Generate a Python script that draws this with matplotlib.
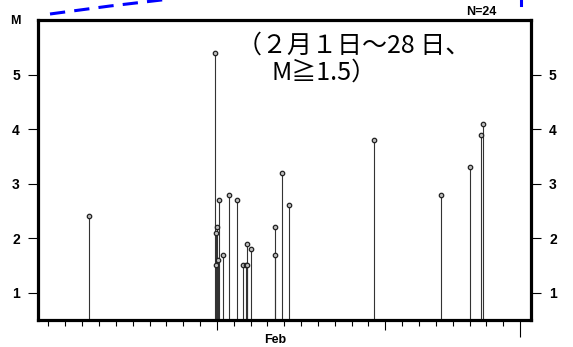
import numpy as np
import matplotlib
matplotlib.use('Agg')
import matplotlib.pyplot as plt
from matplotlib.lines import Line2D

plt.rcParams['font.family'] = ['Liberation Sans', 'Noto Sans CJK JP', 'DejaVu Sans']

# event time in days since Feb 1 00:00, and magnitude
days = [2.43, 9.89, 9.93, 9.95, 10.01, 10.05, 10.13, 10.39, 10.74, 11.18,
        11.57, 11.72, 11.79, 11.81, 12.05, 13.44, 13.44, 13.89, 14.30,
        19.35, 23.29, 25.04, 25.70, 25.80]
mags = [2.4, 5.4, 2.1, 1.5, 2.2, 1.6, 2.7, 1.7, 2.8, 2.7,
        1.5, 1.5, 1.5, 1.9, 1.8, 2.2, 1.7, 3.2, 2.6,
        3.8, 2.8, 3.3, 3.9, 4.1]
y_ticks = [1, 2, 3, 4, 5]
month_label = 'Feb'
title_line1 = '（２月１日～28 日、'
title_line2 = 'M≧1.5）'

fig = plt.figure(figsize=(5.73, 3.47), dpi=100)
ax = fig.add_axes([38/573, 1-320/347, 493/573, 300/347])

ax.vlines(days, 0.5, mags, color='#333333', lw=0.8, zorder=2)
ax.plot(days, mags, 'o', ms=3.2, mfc='#bbbbbb', mec='#222222', mew=0.9, zorder=3)

ax.set_xlim(-0.62, 28.65)
ax.set_ylim(0.5, 6.0)

for s in ax.spines.values():
    s.set_linewidth(2.3)
    s.set_color('black')

# y ticks on both sides
ax.set_yticks(y_ticks)
ax.tick_params(axis='y', which='major', direction='out', length=7, width=0.8,
               left=True, right=True, labelleft=True, labelright=True,
               labelsize=10, pad=6)
for lab in ax.get_yticklabels():
    lab.set_fontweight('bold')

# x ticks: daily minor, 10-day medium, month end long
ax.set_xticks([10, 20, 28])
ax.set_xticks([d for d in range(0, 28) if d not in (10, 20)], minor=True)
ax.tick_params(axis='x', which='minor', direction='out', length=4.5, width=0.8)
ax.tick_params(axis='x', which='major', direction='out', length=7, width=0.8,
               labelbottom=False)
ax.xaxis.get_major_ticks()[2].tick1line.set_markersize(12)

ax.text(13.45, -0.068, month_label, transform=ax.get_xaxis_transform(),
        ha='center', va='center', fontsize=9, fontweight='bold')
ax.text(-0.045, 0.995, 'M', transform=ax.transAxes, ha='center', va='center',
        fontsize=9, fontweight='bold')
ax.text(0.899, 1.026, 'N=24', transform=ax.transAxes, ha='center', va='center',
        fontsize=9, fontweight='bold')

fig.text(237/573, 1-46/347, title_line1, ha='left', va='center',
         fontsize=18, family=['Noto Sans CJK JP', 'DejaVu Sans'])
fig.text(271/573, 1-73/347, title_line2, ha='left', va='center',
         fontsize=18, family=['Noto Sans CJK JP', 'DejaVu Sans'])

# blue callout lines coming in from outside the image
fig.add_artist(Line2D([50/573, 110/573, 170/573], [1-14/347, 1-6/347, 1+1/347],
                      transform=fig.transFigure, color='blue', lw=2.2,
                      ls=(0, (5, 3))))
fig.add_artist(Line2D([520.5/573, 520.5/573], [1-5/347, 1.0],
                      transform=fig.transFigure, color='blue', lw=2.2))

fig.savefig('out.png', dpi=100)
